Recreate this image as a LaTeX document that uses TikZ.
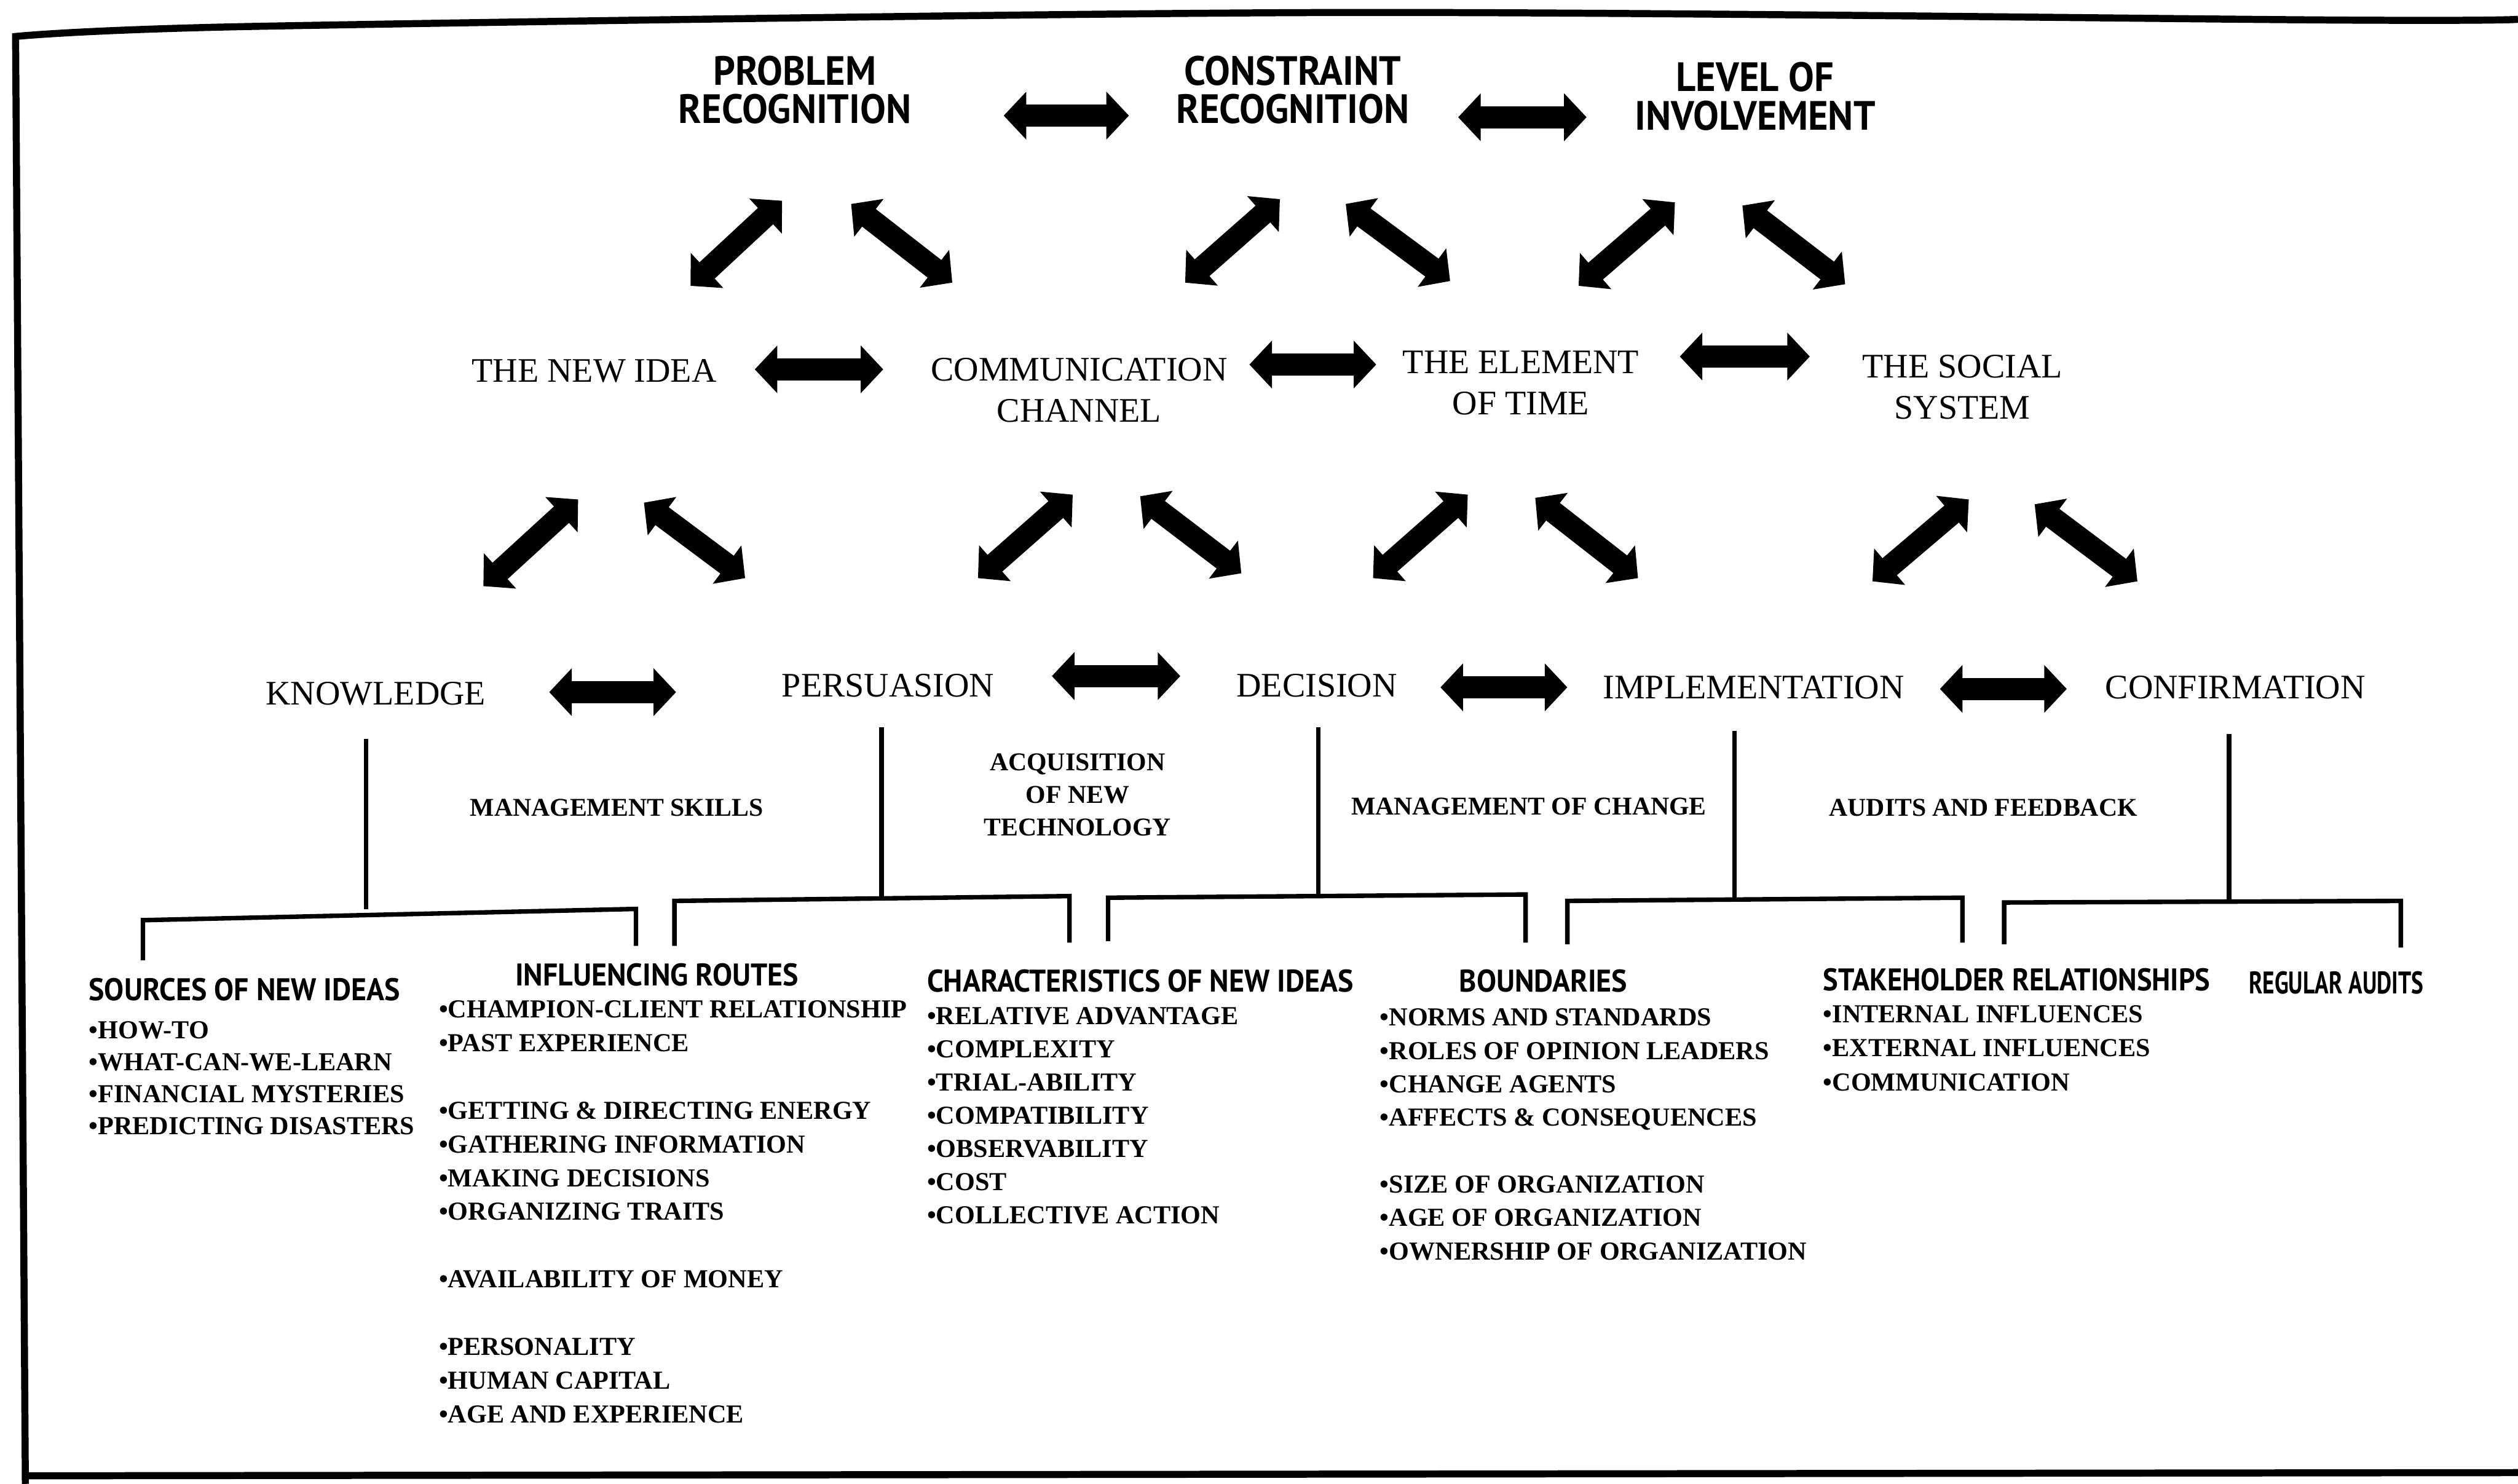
\documentclass[tikz,border=0pt]{standalone}
\usepackage{fontspec}
\setmainfont{Liberation Serif}
\newfontfamily\headfont[FakeStretch=0.94]{PT Sans}
\usetikzlibrary{arrows.meta}
\begin{document}
\begin{tikzpicture}[x=0.02cm,y=-0.02cm,
  dbl/.style={line width=7.9pt,{Triangle[width=16.5pt,length=8pt]}-{Triangle[width=16.5pt,length=8pt]}},
  toplab/.style={font=\headfont\bfseries\fontsize{14.5}{13.6}\selectfont,align=center,inner sep=0},
  midlab/.style={font=\fontsize{12.2}{14.5}\selectfont,align=center,inner sep=0},
  sublab/.style={font=\bfseries\fontsize{9.1}{11.6}\selectfont,align=center,inner sep=0},
  listbox/.style={font=\bfseries\fontsize{9.2}{#1}\selectfont,align=left,inner sep=0,anchor=north west},
  listhead/.style={font=\headfont\bfseries\fontsize{11.1}{12}\selectfont,inner sep=0},
  brk/.style={line width=1.6pt},
  framestyle/.style={line width=2.5pt}]
\useasboundingbox (0,0) rectangle (1568,924);
% frame
\draw[framestyle] plot[smooth] coordinates {(1568,12) (1458,12.5) (827,7.8) (165,16.3) (9.7,22.7)} -- (15.8,924);
\draw[framestyle] (14,919) -- (1568,917);
% top row
\node[toplab] (pr) at (495,56) {PROBLEM\\RECOGNITION};
\node[toplab] (cr) at (805,56) {CONSTRAINT\\RECOGNITION};
\node[toplab] (li) at (1093,60) {LEVEL OF\\INVOLVEMENT};
% second row
\node[midlab] (ni) at (370,231) {THE NEW IDEA};
\node[midlab] (cc) at (672,243) {COMMUNICATION\\CHANNEL};
\node[midlab] (et) at (947,238.5) {THE ELEMENT\\OF TIME};
\node[midlab] (ss) at (1222,241) {THE SOCIAL\\SYSTEM};
% third row
\node[midlab] (kn) at (234,432) {KNOWLEDGE};
\node[midlab] (pe) at (553,427) {PERSUASION};
\node[midlab] (de) at (820,427) {DECISION};
\node[midlab] (im) at (1092,428) {IMPLEMENTATION};
\node[midlab] (co) at (1392,428) {CONFIRMATION};
% sub labels
\node[sublab] (ms) at (384,503) {MANAGEMENT SKILLS};
\node[sublab] (aq) at (671,495) {ACQUISITION\\OF NEW\\TECHNOLOGY};
\node[sublab] (mc) at (952,502) {MANAGEMENT OF CHANGE};
\node[sublab] (af) at (1235,503) {AUDITS AND FEEDBACK};
% arrows
\foreach \n/\a/\b in {
  h1/{625,72}/{703,72}, h2/{908,73}/{988,73},
  d1/{430,178}/{487,125}, d2/{530,127}/{593,176}, d3/{738,176}/{797,124},
  d4/{838,127}/{903,175}, d5/{983,178}/{1043,126}, d6/{1085,128}/{1149,177},
  h3/{470,230}/{550,230}, h4/{778,227}/{857,227}, h5/{1046,222}/{1127,222},
  e1/{301,365}/{360,311}, e2/{401,313}/{464,360}, e3/{609,360}/{668,308},
  e4/{710,309}/{773,357}, e5/{855,360}/{914,308}, e6/{956,310}/{1020,360},
  e7/{1166,362}/{1226,311}, e8/{1267,314}/{1331,362},
  h6/{342,431}/{421,431}, h7/{655,421}/{735,421}, h8/{897,428}/{976,428},
  h9/{1208,429}/{1287,429}}
{
  \coordinate (\n a) at (\a);
  \coordinate (\n b) at (\b);
  \draw[dbl] (\n a) -- (\n b);
}
% brackets
\foreach \n/\sx/\sy/\sb/\lx/\ly/\ld/\rx/\ry/\rd in {
  k/228/460/566/89/573/598/396/566/589,
  p/549/453/559/420/561/589/666/558/587,
  q/821/453/557/690/559/586/950/557/587,
  i/1080/455/560/976/561/588/1222/559/587,
  c/1388/457/560/1248/562/588/1495/561/590}
{
  \coordinate (\n top) at (\sx,\sy);
  \coordinate (\n mid) at (\sx,\sb);
  \coordinate (\n l) at (\lx,\ly);
  \coordinate (\n ld) at (\lx,\ld);
  \coordinate (\n r) at (\rx,\ry);
  \coordinate (\n rd) at (\rx,\rd);
  \draw[brk] (\n top) -- (\n mid);
  \draw[brk] (\n ld) -- (\n l) -- (\n r) -- (\n rd);
}
% lists
\node[listhead,anchor=west] (srcH) at (55,616) {SOURCES OF NEW IDEAS};
\node[listbox=11.3pt] (srcL) at (55,635.7) {•HOW-TO\\•WHAT-CAN-WE-LEARN\\•FINANCIAL MYSTERIES\\•PREDICTING DISASTERS};
\node[listhead] (infH) at (409,607) {INFLUENCING ROUTES};
\node[listbox=11.96pt] (infL) at (273,622.7) {•CHAMPION-CLIENT RELATIONSHIP\\•PAST EXPERIENCE\\[11.96pt]•GETTING \& DIRECTING ENERGY\\•GATHERING INFORMATION\\•MAKING DECISIONS\\•ORGANIZING TRAITS\\[11.96pt]•AVAILABILITY OF MONEY\\[11.96pt]•PERSONALITY\\•HUMAN CAPITAL\\•AGE AND EXPERIENCE};
\node[listhead,anchor=west] (charH) at (577,611) {CHARACTERISTICS OF NEW IDEAS};
\node[listbox=11.8pt] (charL) at (577,626.7) {•RELATIVE ADVANTAGE\\•COMPLEXITY\\•TRIAL-ABILITY\\•COMPATIBILITY\\•OBSERVABILITY\\•COST\\•COLLECTIVE ACTION};
\node[listhead] (bndH) at (961,611) {BOUNDARIES};
\node[listbox=11.85pt] (bndL) at (859,627.7) {•NORMS AND STANDARDS\\•ROLES OF OPINION LEADERS\\•CHANGE AGENTS\\•AFFECTS \& CONSEQUENCES\\[11.85pt]•SIZE OF ORGANIZATION\\•AGE OF ORGANIZATION\\•OWNERSHIP OF ORGANIZATION};
\node[listhead,anchor=west] (stkH) at (1135,610) {\scalebox{0.97}[1]{STAKEHOLDER RELATIONSHIPS}};
\node[listbox=12.1pt] (stkL) at (1135,625.7) {•INTERNAL INFLUENCES\\•EXTERNAL INFLUENCES\\•COMMUNICATION};
\node[listhead,anchor=west] (audH) at (1400,612) {\scalebox{0.78}[1]{REGULAR AUDITS}};
\end{tikzpicture}
\end{document}
